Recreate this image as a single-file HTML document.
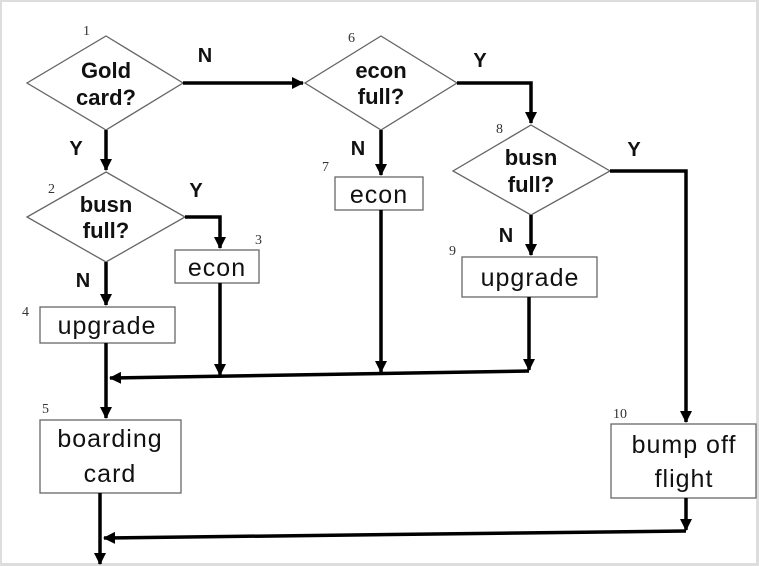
<!DOCTYPE html>
<html><head><meta charset="utf-8"><style>
html,body{margin:0;padding:0;background:#fff;}
svg{display:block;}
.t{font-family:"Liberation Sans",sans-serif;font-size:25px;letter-spacing:1px;fill:#111;text-anchor:middle;}
.b{font-weight:bold;font-size:22px;letter-spacing:0;}
.n{font-family:"Liberation Serif",serif;font-size:14px;fill:#333;}
.s{fill:#fff;stroke:#666;stroke-width:1.3;}
.l{stroke:#000;stroke-width:3.5;fill:none;}
</style></head><body>
<svg width="759" height="566" viewBox="0 0 759 566">
<defs>
<marker id="b" markerWidth="12" markerHeight="12" refX="11" refY="6" orient="auto" markerUnits="userSpaceOnUse"><path d="M0,0 L12,6 L0,12 z" fill="#000"/></marker></defs>
<rect x="0.5" y="0.5" width="757" height="564" fill="none" stroke="#ddd" stroke-width="3"/>
<polygon class="s" points="106,36 183,83 106,130 27,83"/>
<polygon class="s" points="381,36 457,83 381,130 305,83"/>
<polygon class="s" points="531,125 610,171 531,215 453,171"/>
<polygon class="s" points="106,172 185,217 106,262 27,217"/>
<rect class="s" x="175" y="250" width="84" height="33"/>
<rect class="s" x="40" y="307" width="135" height="36"/>
<rect class="s" x="40" y="420" width="141" height="73"/>
<rect class="s" x="335" y="177" width="88" height="33"/>
<rect class="s" x="462" y="257" width="135" height="40"/>
<rect class="s" x="611" y="424" width="145" height="74"/>
<path class="l" d="M183,83 L303,83" marker-end="url(#b)"/>
<path class="l" d="M457,83 L531,83 L531,123" marker-end="url(#b)"/>
<path class="l" d="M610,171 L686,171 L686,422" marker-end="url(#b)"/>
<path class="l" d="M106,130 L106,170" marker-end="url(#b)"/>
<path class="l" d="M185,217 L220,217 L220,248" marker-end="url(#b)"/>
<path class="l" d="M106,262 L106,305" marker-end="url(#b)"/>
<path class="l" d="M381,130 L381,175" marker-end="url(#b)"/>
<path class="l" d="M531,215 L531,255" marker-end="url(#b)"/>
<path class="l" d="M106,343 L106,418" marker-end="url(#b)"/>
<path class="l" d="M220,283 L220,375" marker-end="url(#b)"/>
<path class="l" d="M381,210 L381,372" marker-end="url(#b)"/>
<path class="l" d="M529,297 L529,370" marker-end="url(#b)"/>
<path class="l" d="M529,371 L110,378" marker-end="url(#b)"/>
<path class="l" d="M686,498 L686,530" marker-end="url(#b)"/>
<path class="l" d="M686,531 L104,538" marker-end="url(#b)"/>
<path class="l" d="M100,493 L100,564" marker-end="url(#b)"/>
<text class="t b" x="106" y="78">Gold</text><text class="t b" x="106" y="105">card?</text>
<text class="t b" x="381" y="78">econ</text><text class="t b" x="381" y="104">full?</text>
<text class="t b" x="531" y="165">busn</text><text class="t b" x="531" y="192">full?</text>
<text class="t b" x="106" y="212">busn</text><text class="t b" x="106" y="238">full?</text>
<text class="t" x="217" y="276">econ</text>
<text class="t" x="107" y="334">upgrade</text>
<text class="t" x="110" y="447">boarding</text><text class="t" x="110" y="482">card</text>
<text class="t" x="379" y="203">econ</text>
<text class="t" x="530" y="286">upgrade</text>
<text class="t" x="684" y="453">bump off</text><text class="t" x="684" y="487">flight</text>
<g class="t b" style="font-size:20px">
<text x="205" y="62">N</text><text x="480" y="67">Y</text><text x="634" y="156">Y</text>
<text x="76" y="155">Y</text><text x="196" y="197">Y</text><text x="83" y="287">N</text>
<text x="358" y="155">N</text><text x="506" y="242">N</text></g>
<g class="n"><text x="83" y="35">1</text><text x="348" y="42">6</text><text x="496" y="133">8</text>
<text x="48" y="193">2</text><text x="255" y="244">3</text><text x="22" y="316">4</text>
<text x="42" y="413">5</text><text x="322" y="171">7</text><text x="449" y="255">9</text><text x="613" y="418">10</text></g>
</svg>
</body></html>
